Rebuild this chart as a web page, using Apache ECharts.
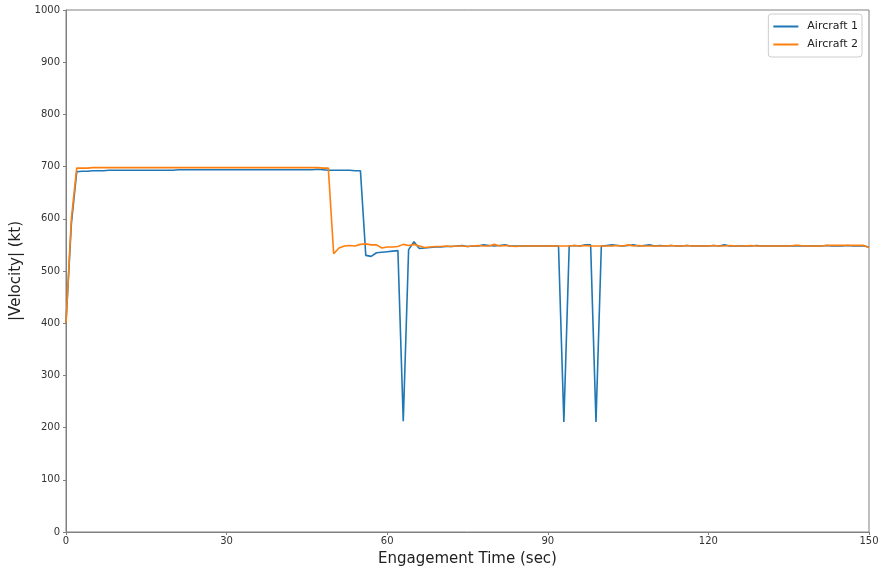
<!DOCTYPE html>
<html>
<head>
<meta charset="utf-8">
<title>Aircraft velocity</title>
<script src="https://cdn.jsdelivr.net/npm/echarts@6/dist/echarts.min.js"></script>
<style>
  html, body { margin: 0; padding: 0; background: #fff; }
  #chart { width: 881px; height: 573px; }
</style>
</head>
<body>
<div id="chart"></div>
<script>
// Speed magnitude (kt) sampled once per second, t = 0 .. 150 s
const aircraft1 = [
  400, 590, 690, 691, 691, 692, 692, 692, 693, 693,
  693, 693, 693, 693, 693, 693, 693, 693, 693, 693,
  693, 694, 694, 694, 694, 694, 694, 694, 694, 694,
  694, 694, 694, 694, 694, 694, 694, 694, 694, 694,
  694, 694, 694, 694, 694, 694, 694, 695, 694, 693,
  693, 693, 693, 693, 692, 692, 530, 528, 535, 536,
  537, 538, 539, 212, 541, 556, 543, 544, 545, 546,
  546, 547, 547, 548, 549, 547, 548, 548, 550, 549,
  548, 549, 550, 548, 548, 548, 548, 548, 548, 548,
  548, 548, 548, 211, 548, 549, 548, 550, 550, 211,
  548, 549, 550, 549, 548, 549, 550, 548, 549, 550,
  548, 549, 548, 549, 548, 548, 549, 548, 548, 548,
  548, 549, 548, 550, 548, 548, 548, 548, 548, 549,
  548, 548, 548, 548, 548, 548, 548, 548, 548, 548,
  548, 548, 549, 548, 548, 548, 549, 548, 548, 548,
  546
];
const aircraft2 = [
  400, 600, 697, 697, 697, 698, 698, 698, 698, 698,
  698, 698, 698, 698, 698, 698, 698, 698, 698, 698,
  698, 698, 698, 698, 698, 698, 698, 698, 698, 698,
  698, 698, 698, 698, 698, 698, 698, 698, 698, 698,
  698, 698, 698, 698, 698, 698, 698, 698, 697, 697,
  533, 544, 548, 549, 548, 551, 552, 550, 550, 544,
  546, 546, 547, 551, 549, 551, 548, 545, 546, 547,
  547, 548, 547, 548, 548, 547, 548, 549, 548, 548,
  551, 548, 549, 548, 547, 548, 548, 548, 548, 548,
  548, 548, 548, 548, 548, 549, 548, 549, 548, 548,
  548, 548, 548, 549, 548, 550, 548, 549, 548, 548,
  548, 548, 548, 549, 548, 548, 549, 548, 548, 548,
  548, 549, 548, 548, 549, 548, 548, 548, 549, 548,
  548, 548, 548, 548, 548, 548, 549, 549, 548, 548,
  548, 548, 549, 549, 549, 549, 549, 549, 549, 549,
  545
];
const seriesNames = ['Aircraft 1', 'Aircraft 2'];
const xTicks = [0, 30, 60, 90, 120, 150];

// pair each sample with its time in seconds (one sample per second)
const toPoints = arr => arr.map((v, i) => [i, v]);

const chart = echarts.init(document.getElementById('chart'), null, { renderer: 'canvas' });
const tickFont = { color: '#333', fontSize: 10, fontFamily: 'DejaVu Sans' };
const spine = '#808080';

chart.setOption({
  animation: false,
  backgroundColor: '#fff',
  grid: {
    left: 66, right: 12, top: 10, bottom: 41,
    outerBoundsMode: 'none', containLabel: false,
    show: true, borderColor: spine, borderWidth: 1, backgroundColor: 'transparent'
  },
  legend: {
    right: 19, top: 14,
    orient: 'vertical',
    itemWidth: 25, itemHeight: 2, itemGap: 7,
    padding: [7, 4, 7, 5],
    borderColor: '#ccc', borderWidth: 1, borderRadius: 3,
    backgroundColor: '#fff',
    textStyle: { fontSize: 11, color: '#222', fontFamily: 'DejaVu Sans', padding: [0, 0, 0, 4] },
    icon: 'rect',
    data: seriesNames
  },
  xAxis: {
    type: 'value', min: 0, max: 150, interval: 30,
    name: 'Engagement Time (sec)', nameLocation: 'middle', nameGap: 20,
    nameTextStyle: { fontSize: 15, color: '#222', fontFamily: 'DejaVu Sans' },
    axisLine: { show: true, lineStyle: { color: spine } },
    axisTick: { show: true, inside: false, length: 3, lineStyle: { color: spine } },
    axisLabel: Object.assign({ margin: 4, formatter: v => xTicks.includes(v) ? String(v) : '' }, tickFont),
    splitLine: { show: false }
  },
  yAxis: {
    type: 'value', min: 0, max: 1000, interval: 100,
    name: '|Velocity| (kt)', nameLocation: 'middle', nameGap: 38, nameRotate: 90,
    nameTextStyle: { fontSize: 15, color: '#222', fontFamily: 'DejaVu Sans' },
    axisLine: { show: true, lineStyle: { color: spine } },
    axisTick: { show: true, inside: false, length: 3, lineStyle: { color: spine } },
    axisLabel: Object.assign({ margin: 6, formatter: v => String(v) }, tickFont),
    splitLine: { show: false }
  },
  series: [
    {
      name: seriesNames[0], type: 'line', data: toPoints(aircraft1),
      showSymbol: false, symbol: 'none',
      lineStyle: { color: '#1f77b4', width: 1.6 }, itemStyle: { color: '#1f77b4' }
    },
    {
      name: seriesNames[1], type: 'line', data: toPoints(aircraft2),
      showSymbol: false, symbol: 'none',
      lineStyle: { color: '#ff7f0e', width: 1.6 }, itemStyle: { color: '#ff7f0e' }
    }
  ]
});
</script>
</body>
</html>
